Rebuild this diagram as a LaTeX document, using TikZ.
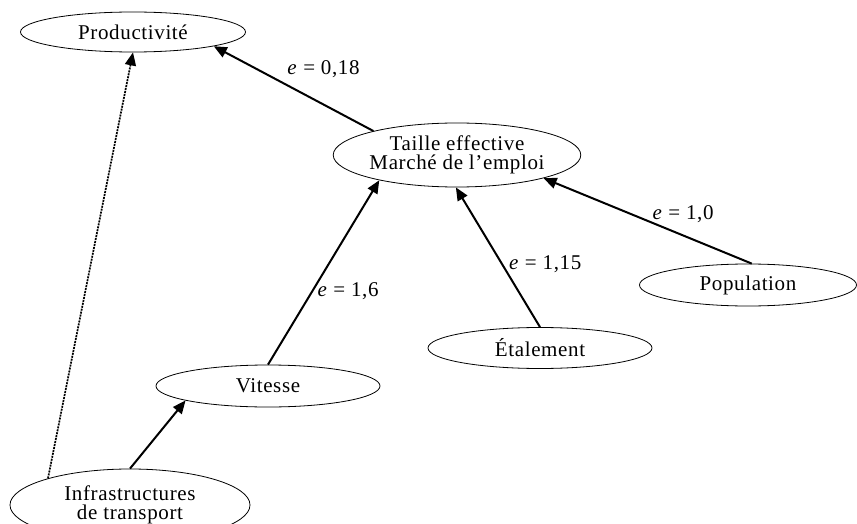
\documentclass[tikz,border=0pt]{standalone}
\usepackage{fontspec}
\setmainfont{Liberation Serif}[LetterSpace=3]
\usetikzlibrary{shapes.geometric,arrows.meta}
\tikzset{x=1pt, y=-1pt, >={Triangle[length=13pt,width=11pt]},
  oval/.style={ellipse, draw, line width=0.8pt, inner sep=0pt, align=center,
    font=\fontsize{21}{19.5}\selectfont},
  lien/.style={->, line width=2pt},
  elab/.style={font=\fontsize{21}{21}\selectfont, inner sep=4pt}}

\begin{document}
\begin{tikzpicture}
                \useasboundingbox (0,0) rectangle (857,524);
                \node[oval, minimum width=225pt, minimum height=40pt] (prod)   at (133,32)  {Productivit\'e};
                \node[oval, minimum width=246pt, minimum height=64pt] (taille) at (457,155) {Taille effective\\March\'e de l'emploi};
                \node[oval, minimum width=217pt, minimum height=42pt] (pop)    at (748,285) {Population};
                \node[oval, minimum width=224pt, minimum height=41pt] (etal)   at (540,348) {\'Etalement};
                \node[oval, minimum width=224pt, minimum height=42pt] (vit)    at (268,386) {Vitesse};
                \node[oval, minimum width=240pt, minimum height=72pt] (infra)  at (130,505) {Infrastructures\\de transport};
                \draw[lien] (taille.164) to node[elab, pos=.57, anchor=south west] {\textit{e} = 0,18} (prod.-10);
                \draw[lien] (vit.90)     to node[elab, pos=.4, anchor=west] {\textit{e} = 1,6} (taille.198);
                \draw[lien] (etal.90)    to node[elab, pos=.45, anchor=west, xshift=2pt] {\textit{e} = 1,15} (taille.268);
                \draw[lien] (pop.80)     to node[elab, pos=.33, anchor=south, yshift=8pt] {\textit{e} = 1,0} (taille.345);
                \draw[lien] (infra.90)   to (vit.190);
                \draw[lien, densely dotted, line width=1.7pt] (infra.162) to (prod.270);
              \end{tikzpicture}
\end{document}
